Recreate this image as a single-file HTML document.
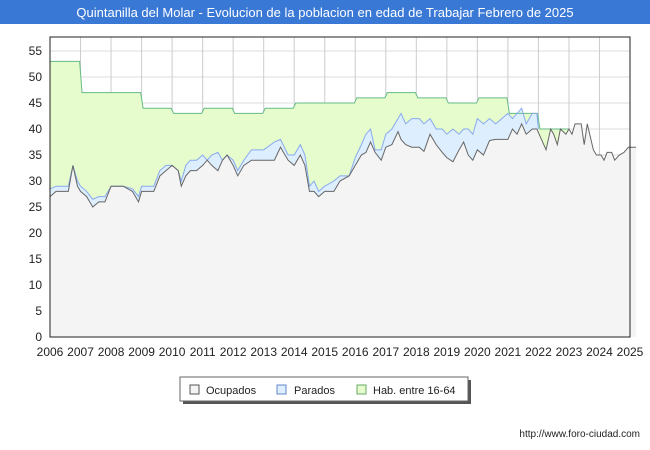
<!DOCTYPE html>
<html><head><meta charset="utf-8"><style>
body{margin:0;background:#fff;font-family:"Liberation Sans",sans-serif;}
#wrap{position:relative;width:650px;height:450px;overflow:hidden;}
</style></head><body>
<div id="wrap">
<svg id="svg" width="650" height="450" xmlns="http://www.w3.org/2000/svg">
<rect x="0" y="0" width="650" height="450" fill="#fff"/>
<rect x="0" y="0" width="650" height="24" fill="#3a78d6"/>
<text x="325" y="17" text-anchor="middle" font-size="13" fill="#fff">Quintanilla del Molar - Evolucion de la poblacion en edad de Trabajar Febrero de 2025</text>
<g id="grid"></g>
<g id="series"></g>
<g id="axes"></g>
<g>
<rect x="183" y="380" width="288" height="24" fill="#555"/>
<rect x="180" y="377" width="288" height="24" fill="#fff" stroke="#666"/>
<rect x="190" y="385" width="9" height="9" fill="#f4f4f4" stroke="#555"/>
<text x="206" y="394" font-size="11" fill="#222">Ocupados</text>
<rect x="277" y="385" width="9" height="9" fill="#ddeeff" stroke="#6688cc"/>
<text x="294" y="394" font-size="11" fill="#222">Parados</text>
<rect x="357" y="385" width="9" height="9" fill="#e6fccc" stroke="#66aa66"/>
<text x="373" y="394" font-size="11" fill="#222">Hab. entre 16-64</text>
</g>
<text x="640" y="437" text-anchor="end" font-size="10" fill="#222">http://www.foro-ciudad.com</text>
</svg>
</div>
<script>
const years=[2006,2007,2008,2009,2010,2011,2012,2013,2014,2015,2016,2017,2018,2019,2020,2021,2022,2023,2024,2025];
const yTicks=[0,5,10,15,20,25,30,35,40,45,50,55];
const habYears=[2006,2007,2008,2009,2010,2011,2012,2013,2014,2015,2016,2017,2018,2019,2020,2021,2022];
const habValues=[53,47,47,44,43,44,43,44,45,45,46,47,46,45,46,43,40];
const times=[2006.0,2006.2,2006.5,2006.6,2006.75,2006.9,2007.0,2007.2,2007.4,2007.6,2007.8,2008.0,2008.4,2008.7,2008.9,2009.0,2009.4,2009.6,2009.8,2010.0,2010.2,2010.3,2010.45,2010.6,2010.8,2011.0,2011.15,2011.3,2011.5,2011.65,2011.8,2012.0,2012.15,2012.35,2012.6,2013.0,2013.35,2013.55,2013.8,2014.0,2014.2,2014.35,2014.5,2014.65,2014.8,2015.0,2015.3,2015.5,2015.8,2016.0,2016.2,2016.35,2016.5,2016.65,2016.85,2017.0,2017.2,2017.4,2017.5,2017.65,2017.85,2018.1,2018.25,2018.45,2018.65,2018.85,2019.0,2019.2,2019.4,2019.55,2019.7,2019.85,2020.0,2020.2,2020.4,2020.6,2020.8,2021.0,2021.15,2021.3,2021.45,2021.6,2021.8,2021.95,
2022.1,2022.25,2022.4,2022.5,2022.62,2022.72,2022.9,2023.0,2023.1,2023.2,2023.4,2023.5,2023.6,2023.8,2023.9,2024.05,2024.15,2024.25,2024.4,2024.5,2024.65,2024.8,2024.95,2025.2];
const ocupados=[27,28,28,28,33,29,28,27,25,26,26,29,29,28,26,28,28,31,32,33,32,29,31,32,32,33,34,33,32,34,35,33,31,33,34,34,34,36.5,34,33,35,33,28,28,27,28,28,30,31,33,35,35.5,37.5,35.5,34,36.5,37,39.5,38,37,36.5,36.5,35.7,39,37,35.5,34.5,33.7,36,37.5,35,34,36,35,37.8,38,38,38,40,39,41,39,40,40,
38,36,40,39,37,40,39,40,39,41,41,37,41,36,35,35,34,35.5,35.5,34,35,35.5,36.5,36.5];
const parados=[1.5,1,1,1,0,1,1,1,1.5,1,1,0,0,0.5,1,1,1,1,1,0,0,1,2,2,2,2,0,2,3.5,0,0,1,1,1,2,2,3.5,1.5,1,2,2,2,1,2,1,1,2,1,0,1.5,2,3.5,2.5,0.5,2,2.5,3,2.5,5,4,5.5,5.5,5.3,3,3,4.5,4.5,6.3,3,2.5,5,5,6,6,4.2,3,4,5,2,4,3,2,3,3];

const L=50,R=630,T=37,B=337;
const xs=t=>L+(t-2006)/(2025-2006)*(R-L);
const ys=v=>B-v/57.7*(B-T);
const NS='http://www.w3.org/2000/svg';
function mk(parent,tag,attrs){const e=document.createElementNS(NS,tag);for(const k in attrs)e.setAttribute(k,attrs[k]);document.getElementById(parent).appendChild(e);return e;}

let e=mk('grid','rect',{x:L,y:T,width:R-L,height:B-T,fill:'#fff'});


yTicks.forEach(v=>{
  const g=mk('grid','line',{x1:L,x2:R,y1:ys(v),y2:ys(v),stroke:'#ddd','stroke-width':1});
  
  
  const t=mk('axes','text',{x:L-8,y:ys(v)+4,'text-anchor':'end','font-size':12,fill:'#222'});
  t.textContent=v;
  
  
});
years.forEach(y=>{
  const g=mk('grid','line',{x1:xs(y),x2:xs(y),y1:T,y2:B,stroke:'#ccc','stroke-width':1});
  
  
  const t=mk('axes','text',{x:xs(y),y:B+19,'text-anchor':'middle','font-size':12,fill:'#222'});
  t.textContent=y;
  
  
});

// Hab series (step)
let hp=[];
habYears.forEach((y,i)=>{hp.push([xs(y+(i?0.05:0)),ys(habValues[i])]);hp.push([xs(y+0.97),ys(habValues[i])]);});
let hd='M'+hp.map(p=>p.join(',')).join(' L');
e=mk('series','path',{d:hd+` L${hp[hp.length-1][0]},${B} L${L},${B} Z`,fill:'#e6fccc',stroke:'none'});


// active = ocupados + parados
const n=parados.length;
let ap=[];for(let i=0;i<n;i++)ap.push([xs(times[i]),ys(ocupados[i]+parados[i])]);
ap.push([xs(times[n-1]+0.05),ys(ocupados[n-1])]);
let ad='M'+ap.map(p=>p.join(',')).join(' L');
e=mk('series','path',{d:ad+` L${ap[ap.length-1][0]},${B} L${L},${B} Z`,fill:'#ddeeff',stroke:'none'});


let op=times.map((t,i)=>[xs(t),ys(ocupados[i])]);
let od='M'+op.map(p=>p.join(',')).join(' L');
e=mk('series','path',{d:od+` L${op[op.length-1][0]},${B} L${L},${B} Z`,fill:'#f4f4f4',stroke:'none'});


e=mk('series','path',{d:hd,fill:'none',stroke:'#66bb88','stroke-width':1});


e=mk('series','path',{d:ad,fill:'none',stroke:'#88aaee','stroke-width':1});


e=mk('series','path',{d:od,fill:'none',stroke:'#666','stroke-width':1});



e=mk('axes','rect',{x:L,y:T,width:R-L,height:B-T,fill:'none',stroke:'#222','stroke-width':1});


</script>
</body></html>
